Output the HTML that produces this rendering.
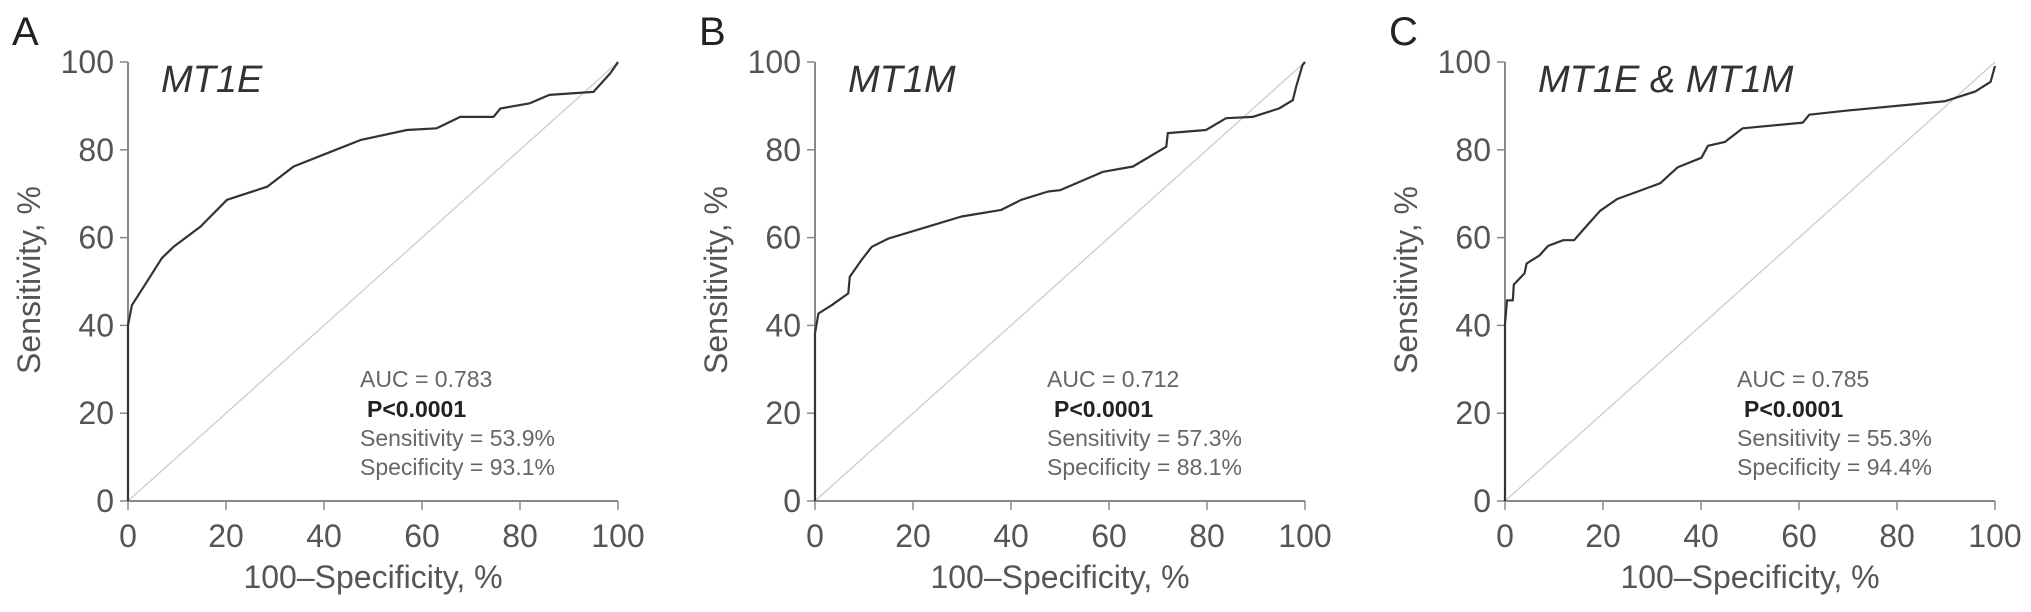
<!DOCTYPE html>
<html><head><meta charset="utf-8">
<style>
html,body{margin:0;padding:0;background:#fff;}
svg{display:block;font-family:"Liberation Sans",Arial,sans-serif;}
.tick{font-size:32px;fill:#555;}
.atitle{font-size:32px;fill:#555;}
.ann{font-size:23px;fill:#666;}
.annb{font-size:23px;fill:#222;font-weight:bold;}
.ptitle{font-size:38px;fill:#333;font-style:italic;}
.letter{font-size:40px;fill:#222;}
</style></head>
<body>
<svg id="fig" width="2031" height="612" viewBox="0 0 2031 612"></svg>
<script>
const tickValues = [0, 20, 40, 60, 80, 100];
const panelLetters = ["A", "B", "C"];
const panelTitles = ["MT1E", "MT1M", "MT1E & MT1M"];
const aucLabels = ["AUC = 0.783", "AUC = 0.712", "AUC = 0.785"];
const pLabels = ["P<0.0001", "P<0.0001", "P<0.0001"];
const sensLabels = ["Sensitivity = 53.9%", "Sensitivity = 57.3%", "Sensitivity = 55.3%"];
const specLabels = ["Specificity = 93.1%", "Specificity = 88.1%", "Specificity = 94.4%"];
const rocA_x = [0,0,0.8,3.2,6.9,9.3,14.8,20.2,28.4,33.8,40.6,47.4,56.9,63,67.8,74.6,76,82,86,95,98.4,99.6,100];
const rocA_y = [0,40,44.6,48.8,55.3,57.9,62.5,68.6,71.6,76.2,79.2,82.2,84.5,84.9,87.5,87.5,89.4,90.6,92.5,93.2,97.4,99.3,100];
const rocB_x = [0,0,0.7,3.4,6.8,7.1,9.5,11.6,15,23.1,29.9,38,42.1,47.6,50,58.8,64.9,71.7,72,79.8,83.9,89.3,94.7,97.5,98.2,99.5,100];
const rocB_y = [0,38.2,42.7,44.6,47.3,51.1,54.9,57.9,59.8,62.5,64.8,66.3,68.6,70.5,70.8,75,76.2,80.7,83.8,84.5,87.2,87.5,89.4,91.3,94.4,99.3,100];
const rocC_x = [0,0,0.4,1.6,1.8,4,4.4,7,8.8,11.9,14.1,15.9,19.4,22.9,27.3,31.7,35.2,40.1,41.4,44.9,48.5,60.8,62.1,69.6,81.9,89.9,96,99.1,100];
const rocC_y = [0,40.3,45.7,45.7,49.3,51.9,54.1,55.9,58.1,59.4,59.4,61.7,66.1,68.8,70.6,72.4,76,78.2,80.9,81.8,84.9,86.2,88,88.9,90.2,91.1,93.3,95.5,99.1];

const NS = "http://www.w3.org/2000/svg";
const svg = document.getElementById("fig");
const panelX0 = [128, 815, 1505];
const plotW = 490, yTop = 62, yBot = 501;
const curvesX = [rocA_x, rocB_x, rocC_x];
const curvesY = [rocA_y, rocB_y, rocC_y];

function mk(tag, attrs, parent){
  const e = document.createElementNS(NS, tag);
  for (const k in attrs) e.setAttribute(k, attrs[k]);
  (parent||svg).appendChild(e);
  return e;
}

for (let p = 0; p < 3; p++) {
  const x0 = panelX0[p];
  const sx = v => x0 + v / 100 * plotW;
  const sy = v => yBot - v / 100 * (yBot - yTop);
  const g = mk("g", {});
  
  

  const letter = mk("text", {x: x0 - 116, y: 45, class: "letter"}, g);
  letter.textContent = panelLetters[p];
  
  

  const diag = mk("line", {x1: sx(0), y1: sy(0), x2: sx(100), y2: sy(100), stroke: "#ccc", "stroke-width": 1.3}, g);
  
  

  const yax = mk("line", {x1: x0, y1: yTop, x2: x0, y2: yBot, stroke: "#888", "stroke-width": 2}, g);
  
  
  const xax = mk("line", {x1: x0, y1: yBot, x2: sx(100), y2: yBot, stroke: "#888", "stroke-width": 2}, g);
  
  

  tickValues.forEach(v => {
    mk("line", {x1: x0 - 8, y1: sy(v), x2: x0, y2: sy(v), stroke: "#888", "stroke-width": 1.5}, g);
    const ty = mk("text", {x: x0 - 14, y: sy(v) + 11, class: "tick", "text-anchor": "end"}, g);
    ty.textContent = v;
    
    
    mk("line", {x1: sx(v), y1: yBot, x2: sx(v), y2: yBot + 9, stroke: "#888", "stroke-width": 1.5}, g);
    const tx = mk("text", {x: sx(v), y: 547, class: "tick", "text-anchor": "middle"}, g);
    tx.textContent = v;
    
    
  });

  const xt = mk("text", {x: x0 + plotW / 2, y: 588, class: "atitle", "text-anchor": "middle"}, g);
  xt.textContent = "100\u2013Specificity, %";
  
  
  const yt = mk("text", {x: 0, y: 0, class: "atitle", "text-anchor": "middle", transform: `translate(${x0 - 88},280) rotate(-90)`}, g);
  yt.textContent = "Sensitivity, %";
  
  

  const title = mk("text", {x: x0 + 33, y: 92, class: "ptitle"}, g);
  title.textContent = panelTitles[p];
  
  

  const xs = curvesX[p], ys = curvesY[p];
  let d = "";
  for (let i = 0; i < xs.length; i++) d += (i ? "L" : "M") + sx(xs[i]).toFixed(1) + "," + sy(ys[i]).toFixed(1);
  const path = mk("path", {d: d, fill: "none", stroke: "#333", "stroke-width": 2.2, "stroke-linejoin": "round"}, g);
  
  

  const ax = x0 + 232;
  const lines = [[aucLabels[p], "ann", 0, 387], [pLabels[p], "annb", 7, 417], [sensLabels[p], "ann", 0, 446], [specLabels[p], "ann", 0, 475]];
  lines.forEach(l => {
    const t = mk("text", {x: ax + l[2], y: l[3], class: l[1]}, g);
    t.textContent = l[0];
    
    
  });
}
</script>
</body></html>
